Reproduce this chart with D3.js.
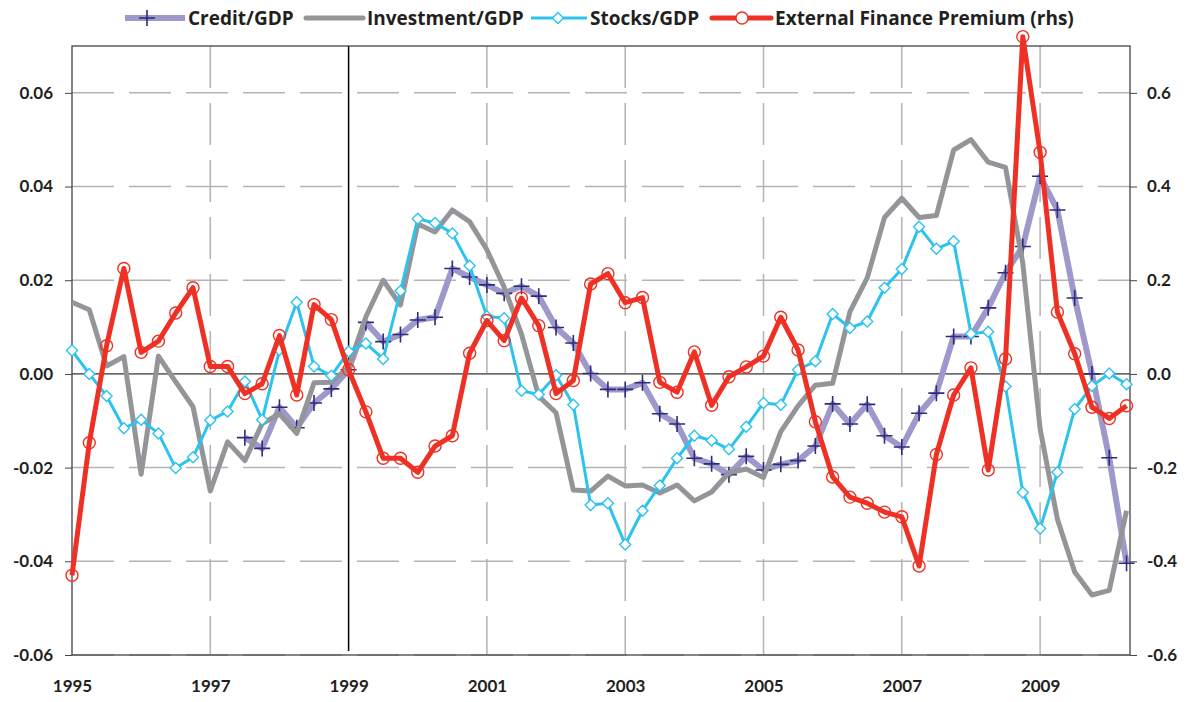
<!DOCTYPE html>
<html>
<head>
<meta charset="utf-8">
<script src="https://cdn.jsdelivr.net/npm/d3@7"></script>
<style>
  body { margin: 0; background: #fff; }
  text { font-family: Lato, "Open Sans", sans-serif; font-weight: bold; fill: #231f20; }
  .legend text { font-family: "Open Sans", Lato, sans-serif; }
</style>
</head>
<body>
<div id="chart"></div>
<script>
// quarterly, 1995Q1 .. 2010Q2
var startYear = 1995;
var yearTicks = [1995, 1997, 1999, 2001, 2003, 2005, 2007, 2009];
var leftTicks = [-0.06, -0.04, -0.02, 0, 0.02, 0.04, 0.06];
var rightTicks = [-0.6, -0.4, -0.2, 0, 0.2, 0.4, 0.6];

var credit = [null, null, null, null, null, null, null, null, null, null,
  -0.0136, -0.0159, -0.0071, -0.0115, -0.0062, -0.0032, 0.0009, 0.0110, 0.0069, 0.0084,
  0.0115, 0.0121, 0.0225, 0.0207, 0.0190, 0.0172, 0.0187, 0.0166, 0.0099, 0.0066,
  0.0001, -0.0033, -0.0033, -0.0019, -0.0085, -0.0107, -0.0180, -0.0192, -0.0215, -0.0176,
  -0.0205, -0.0193, -0.0185, -0.0154, -0.0064, -0.0107, -0.0065, -0.0132, -0.0156, -0.0084,
  -0.0041, 0.0080, 0.0080, 0.0141, 0.0216, 0.0272, 0.0422, 0.0350, 0.0162, 0.0000,
  -0.0179, -0.0404];

var investment = [0.0153, 0.0137, 0.0017, 0.0037, -0.0214, 0.0038, -0.0017, -0.0070, -0.0250, -0.0145,
  -0.0185, -0.0106, -0.0085, -0.0127, -0.0019, -0.0018, 0.0015, 0.0122, 0.0200, 0.0147,
  0.0320, 0.0303, 0.0350, 0.0325, 0.0265, 0.0185, 0.0085, -0.0048, -0.0083, -0.0248,
  -0.0250, -0.0218, -0.0239, -0.0237, -0.0254, -0.0237, -0.0271, -0.0252, -0.0211, -0.0203,
  -0.0221, -0.0123, -0.0068, -0.0024, -0.0020, 0.0133, 0.0205, 0.0334, 0.0375, 0.0334,
  0.0338, 0.0478, 0.0500, 0.0452, 0.0441, 0.0236, -0.0117, -0.0310, -0.0423, -0.0472,
  -0.0462, -0.0292];

var stocks = [0.0050, 0.0000, -0.0047, -0.0116, -0.0098, -0.0127, -0.0201, -0.0178, -0.0099, -0.0080,
  -0.0016, -0.0098, 0.0051, 0.0153, 0.0016, -0.0004, 0.0048, 0.0065, 0.0032, 0.0177,
  0.0331, 0.0322, 0.0300, 0.0231, 0.0123, 0.0119, -0.0036, -0.0044, -0.0003, -0.0066,
  -0.0280, -0.0276, -0.0364, -0.0292, -0.0238, -0.0180, -0.0132, -0.0142, -0.0161, -0.0113,
  -0.0062, -0.0066, 0.0009, 0.0027, 0.0128, 0.0098, 0.0112, 0.0184, 0.0224, 0.0314,
  0.0267, 0.0283, 0.0086, 0.0090, -0.0027, -0.0253, -0.0330, -0.0210, -0.0075, -0.0026,
  0.0001, -0.0022];

var premium = [-0.430, -0.147, 0.060, 0.225, 0.046, 0.070, 0.130, 0.184, 0.016, 0.016,
  -0.042, -0.021, 0.082, -0.045, 0.148, 0.116, 0.009, -0.081, -0.180, -0.180,
  -0.210, -0.154, -0.132, 0.044, 0.114, 0.071, 0.162, 0.103, -0.042, -0.014,
  0.192, 0.214, 0.152, 0.163, -0.018, -0.039, 0.047, -0.067, -0.006, 0.015,
  0.038, 0.121, 0.051, -0.102, -0.220, -0.263, -0.276, -0.295, -0.305, -0.410,
  -0.172, -0.045, 0.013, -0.205, 0.032, 0.720, 0.473, 0.132, 0.043, -0.071,
  -0.095, -0.068];

var plotL = 72, plotR = 1130, plotT = 46, plotB = 655;

var svg = d3.select("#chart").append("svg")
    .attr("width", 1186)
    .attr("height", 702);

var x = d3.scaleLinear().domain([1995, 2010.3]).range([plotL, plotR]);
var y = d3.scaleLinear().domain([-0.06, 0.07]).range([plotB, plotT]);
var y2 = d3.scaleLinear().domain([-0.6, 0.7]).range([plotB, plotT]);

function qx(i) { return x(startYear + i / 4); }

// plain hyphen for negatives, like the original
function fmt(spec) {
  var f = d3.format(spec);
  return function(d) { return f(d).replace("\u2212", "-"); };
}

// grid
svg.append("g").selectAll("line")
    .data(leftTicks.filter(function(d) { return d != 0; }))
    .enter().append("line")
    .attr("x1", plotL).attr("x2", plotR)
    .attr("y1", function(d) { return y(d); })
    .attr("y2", function(d) { return y(d); })
    .attr("stroke", "#b3b3b3").attr("stroke-width", 1.5)
    .attr("stroke-dasharray", "42,15");

svg.append("g").selectAll("line")
    .data(yearTicks.filter(function(d) { return d != 1995 && d != 1999; }))
    .enter().append("line")
    .attr("x1", function(d) { return x(d); })
    .attr("x2", function(d) { return x(d); })
    .attr("y1", plotT).attr("y2", plotB)
    .attr("stroke", "#b3b3b3").attr("stroke-width", 1.5)
    .attr("stroke-dasharray", "42,15");

// zero line and 1999 marker
svg.append("line")
    .attr("x1", plotL).attr("x2", plotR)
    .attr("y1", y(0)).attr("y2", y(0))
    .attr("stroke", "#000").attr("stroke-width", 1);
svg.append("line")
    .attr("x1", x(1999)).attr("x2", x(1999))
    .attr("y1", plotT).attr("y2", plotB - 4)
    .attr("stroke", "#000").attr("stroke-width", 1.5);

// frame
svg.append("rect")
    .attr("x", plotL).attr("y", plotT)
    .attr("width", plotR - plotL).attr("height", plotB - plotT)
    .attr("fill", "none").attr("stroke", "#444").attr("stroke-width", 1.3);

// axes
var axL = svg.append("g")
    .attr("transform", "translate(" + plotL + ",0)")
    .call(d3.axisLeft(y).tickValues(leftTicks).tickFormat(fmt(".2f")).tickSize(7).tickPadding(12));
var axR = svg.append("g")
    .attr("transform", "translate(" + plotR + ",0)")
    .call(d3.axisRight(y2).tickValues(rightTicks).tickFormat(fmt(".1f")).tickSize(7).tickPadding(10));
var axB = svg.append("g")
    .attr("transform", "translate(0," + plotB + ")")
    .call(d3.axisBottom(x).tickValues(yearTicks).tickFormat(d3.format("d")).tickSize(0).tickPadding(25));

[axL, axR, axB].forEach(function(a) {
  a.select(".domain").remove();
  a.selectAll("line").attr("stroke", "#444");
  a.selectAll("text").style("font-size", "17px").attr("fill", "#231f20");
});

var lineL = d3.line()
    .defined(function(d) { return d != null; })
    .x(function(d, i) { return qx(i); })
    .y(function(d) { return y(d); });
var lineR = d3.line()
    .x(function(d, i) { return qx(i); })
    .y(function(d) { return y2(d); });

// Credit/GDP
svg.append("path").datum(credit)
    .attr("d", lineL).attr("fill", "none")
    .attr("stroke", "#9d99ca").attr("stroke-width", 6).attr("stroke-linejoin", "round");
svg.append("g").selectAll("path")
    .data(credit.map(function(d, i) { return {v: d, i: i}; }).filter(function(d) { return d.v != null; }))
    .enter().append("path")
    .attr("d", function(d) {
      var cx = qx(d.i), cy = y(d.v);
      return "M" + (cx - 8) + "," + cy + "H" + (cx + 8) + "M" + cx + "," + (cy - 8) + "V" + (cy + 8);
    })
    .attr("stroke", "#2e2a7e").attr("stroke-width", 1.6).attr("fill", "none");

// Investment/GDP
svg.append("path").datum(investment)
    .attr("d", lineL).attr("fill", "none")
    .attr("stroke", "#939598").attr("stroke-width", 5).attr("stroke-linejoin", "round");

// Stocks/GDP
svg.append("path").datum(stocks)
    .attr("d", lineL).attr("fill", "none")
    .attr("stroke", "#2cc3ee").attr("stroke-width", 3).attr("stroke-linejoin", "round");
svg.append("g").selectAll("path")
    .data(stocks)
    .enter().append("path")
    .attr("d", function(d, i) {
      var cx = qx(i), cy = y(d);
      return "M" + cx + "," + (cy - 5.5) + "L" + (cx + 5.5) + "," + cy + "L" + cx + "," + (cy + 5.5) + "L" + (cx - 5.5) + "," + cy + "Z";
    })
    .attr("fill", "#fff").attr("stroke", "#2cc3ee").attr("stroke-width", 1.4);

// External Finance Premium (rhs)
svg.append("path").datum(premium)
    .attr("d", lineR).attr("fill", "none")
    .attr("stroke", "#ee3124").attr("stroke-width", 5).attr("stroke-linejoin", "round");
svg.append("g").selectAll("circle")
    .data(premium)
    .enter().append("circle")
    .attr("cx", function(d, i) { return qx(i); })
    .attr("cy", function(d) { return y2(d); })
    .attr("r", 6)
    .attr("fill", "none").attr("stroke", "#ee3124").attr("stroke-width", 1.4);

// legend
var lg = svg.append("g").attr("class", "legend").attr("transform", "translate(0,18)");
lg.append("line").attr("x1", 125).attr("x2", 185).attr("stroke", "#9d99ca").attr("stroke-width", 6);
lg.append("path").attr("d", "M147,-8V8M139,0H155").attr("stroke", "#2e2a7e").attr("stroke-width", 1.6);
lg.append("text").attr("x", 188).attr("y", 6.5).style("font-size", "19px").text("Credit/GDP");

lg.append("line").attr("x1", 306).attr("x2", 363).attr("stroke", "#939598").attr("stroke-width", 5).attr("stroke-linecap", "round");
lg.append("text").attr("x", 367).attr("y", 6.5).style("font-size", "19px").text("Investment/GDP");

lg.append("line").attr("x1", 531).attr("x2", 587).attr("stroke", "#2cc3ee").attr("stroke-width", 3);
lg.append("path").attr("d", "M558,-5.5L563.5,0L558,5.5L552.5,0Z").attr("fill", "#fff").attr("stroke", "#2cc3ee").attr("stroke-width", 1.4);
lg.append("text").attr("x", 590).attr("y", 6.5).style("font-size", "19px").text("Stocks/GDP");

lg.append("line").attr("x1", 712).attr("x2", 771).attr("stroke", "#ee3124").attr("stroke-width", 5).attr("stroke-linecap", "round");
lg.append("circle").attr("cx", 742).attr("cy", 0).attr("r", 6).attr("fill", "#fff").attr("stroke", "#ee3124").attr("stroke-width", 1.4);
lg.append("text").attr("x", 775).attr("y", 6.5).style("font-size", "19px").text("External Finance Premium (rhs)");
</script>
</body>
</html>
